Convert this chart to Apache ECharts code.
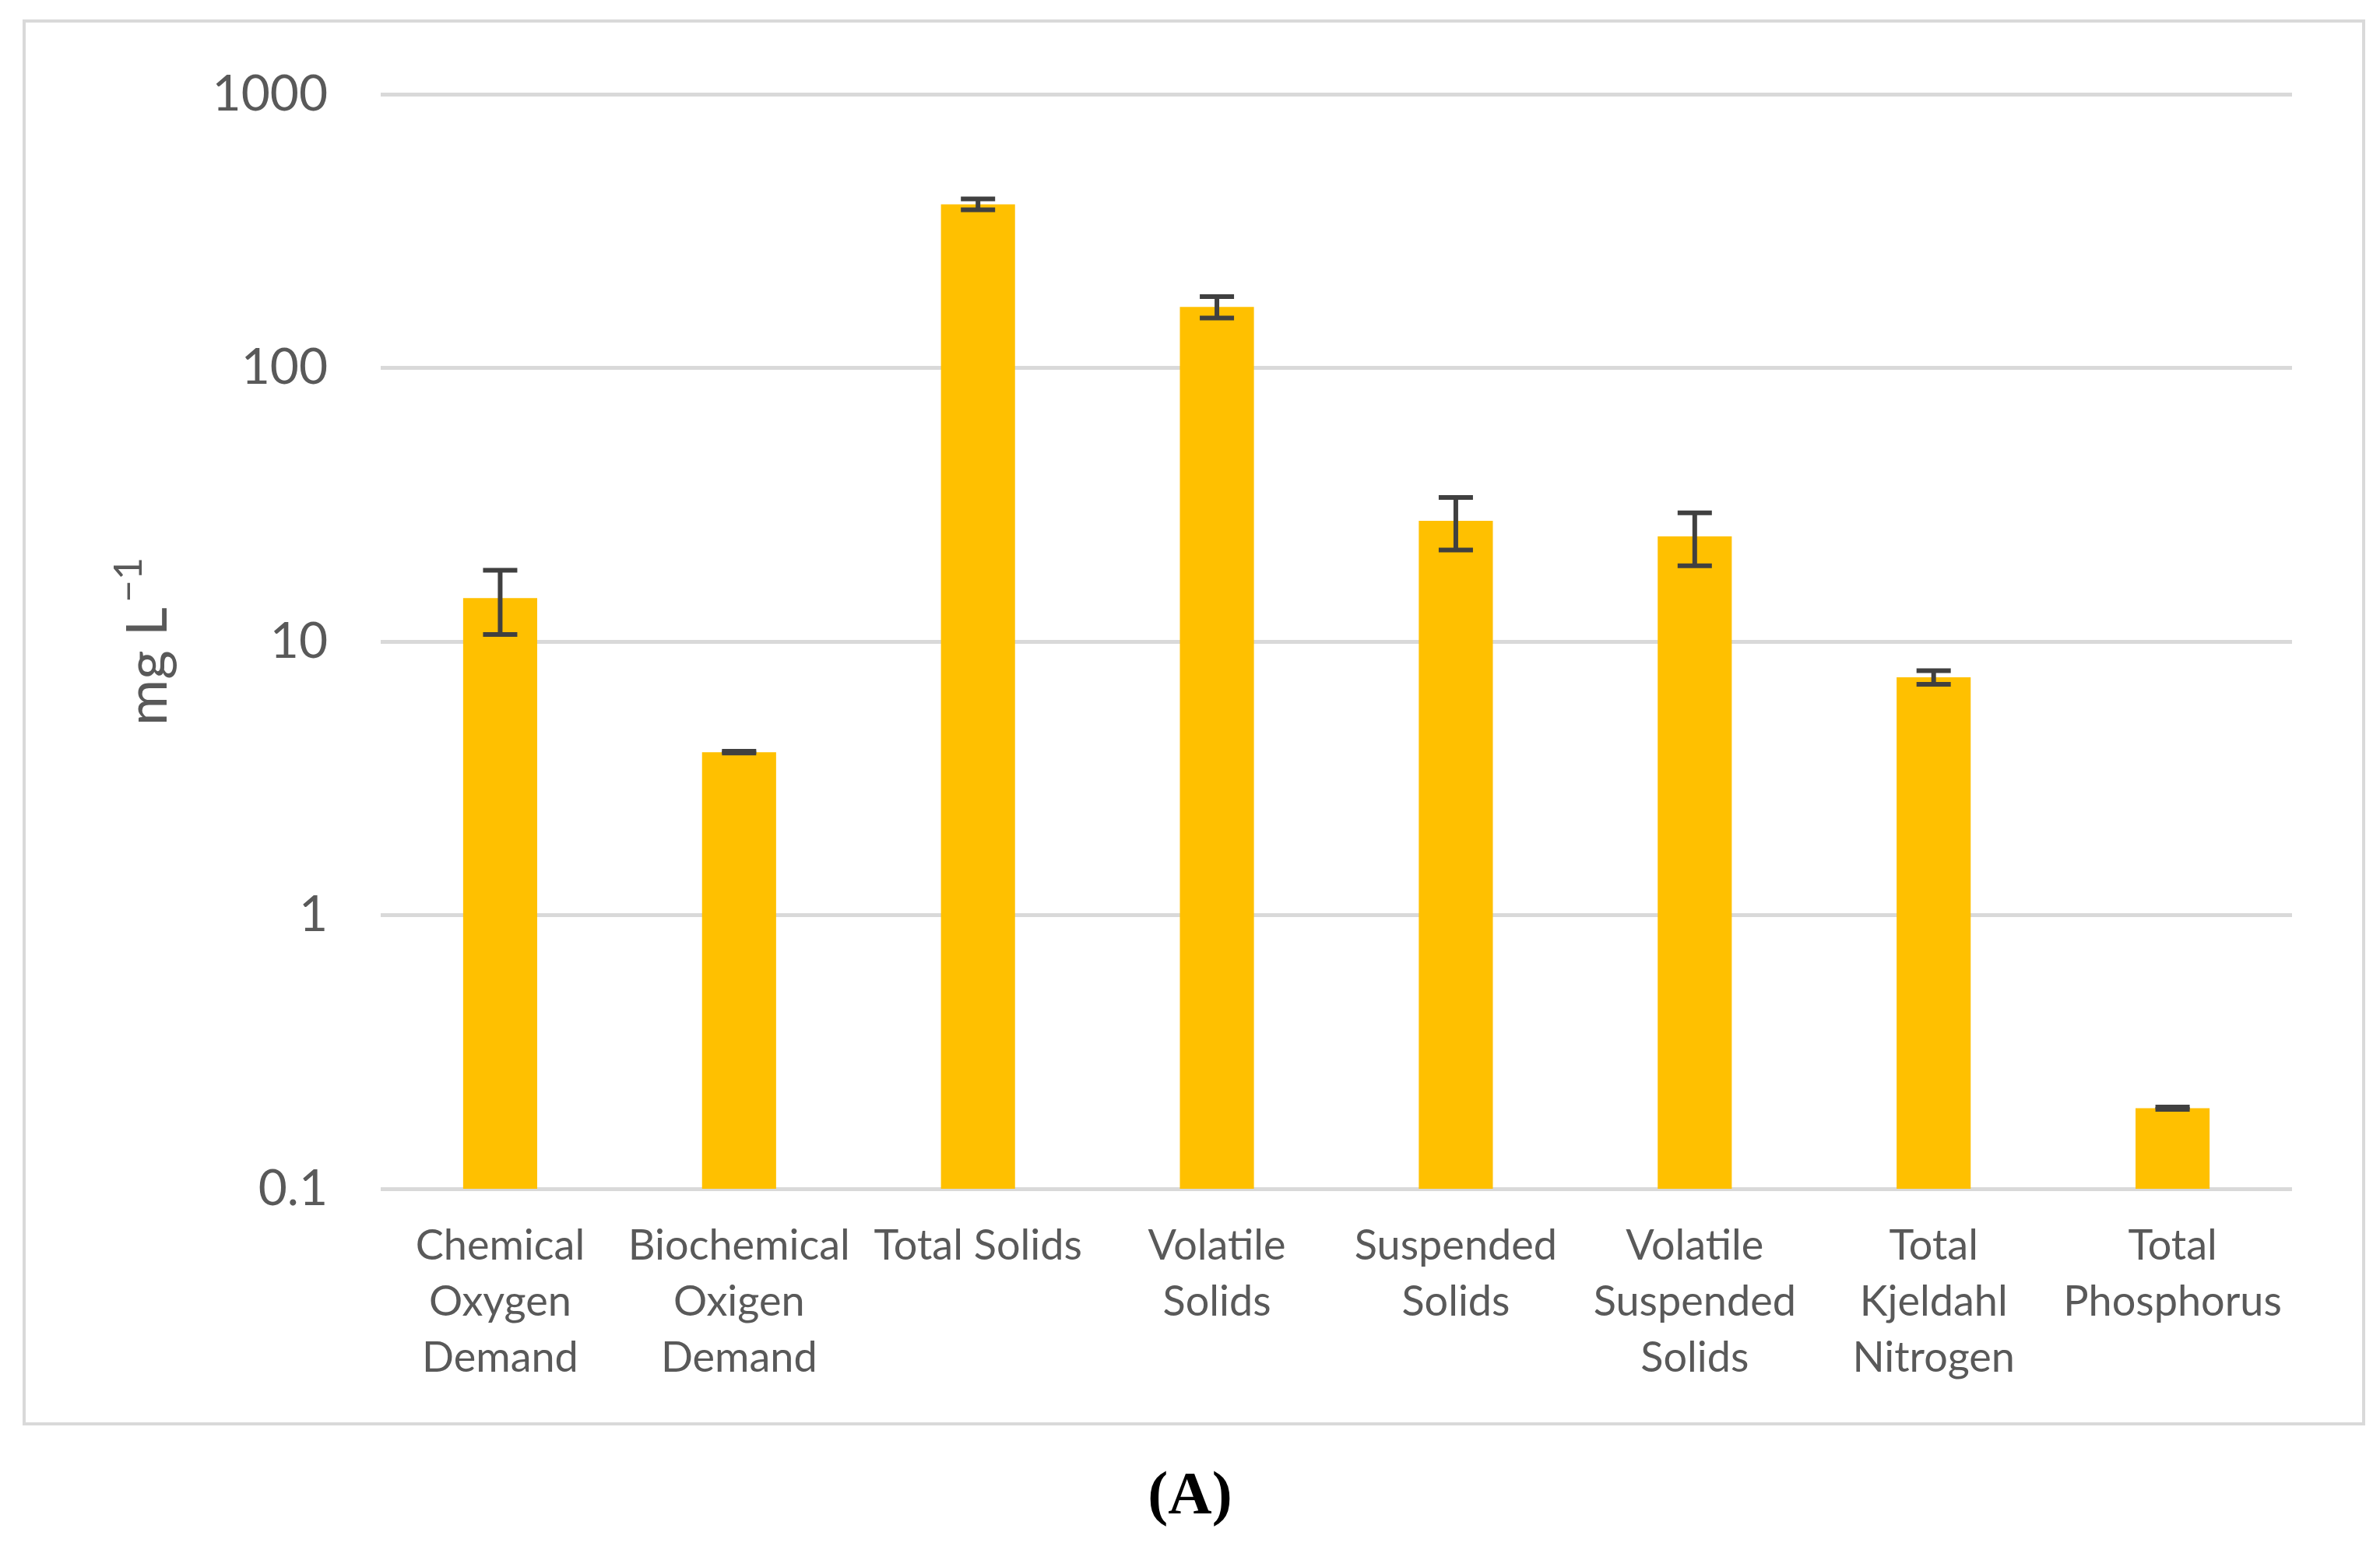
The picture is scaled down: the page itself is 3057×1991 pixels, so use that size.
<!DOCTYPE html>
<html>
<head>
<meta charset="utf-8">
<script src="https://cdn.jsdelivr.net/npm/echarts@6/dist/echarts.min.js"></script>
<style>
html, body { margin: 0; padding: 0; background: #ffffff; }
#chart { width: 3057px; height: 1991px; }
</style>
</head>
<body>
<div id="chart"></div>
<script>
// values (log scale)
var categories = ['Chemical\nOxygen\nDemand', 'Biochemical\nOxigen\nDemand', 'Total Solids', 'Volatile\nSolids',
    'Suspended\nSolids', 'Volatile\nSuspended\nSolids', 'Total\nKjeldahl\nNitrogen', 'Total\nPhosphorus'];
var means = [14.4, 3.94, 396, 167, 27.6, 24.2, 7.4, 0.197];
var errors = [3.8, 0.03, 18, 15, 6, 5.3, 0.42, 0.002];
var yTicks = [0.1, 1, 10, 100, 1000];

var textColor = '#595959';
var gridColor = '#d9d9d9';

var barData = means.map(function (v, i) { return [i, v]; });
var errData = means.map(function (v, i) { return [i, v - errors[i], v + errors[i]]; });

var chart = echarts.init(document.getElementById('chart'));
var option = {
    backgroundColor: '#ffffff',
    animation: false,
    title: {
        text: '{p|(}{b|A}{p|)}',
        left: 'center',
        top: 1880,
        textStyle: {
            rich: {
                p: { fontFamily: 'Liberation Serif', fontSize: 78, color: '#000000' },
                b: { fontFamily: 'Liberation Serif', fontSize: 78, fontWeight: 'bold', color: '#000000' }
            }
        }
    },
    graphic: [{
        type: 'rect',
        shape: { x: 31, y: 27, width: 3005, height: 1802 },
        style: { fill: null, stroke: gridColor, lineWidth: 4 },
        silent: true
    }],
    grid: { left: 489, right: 113, top: 121, bottom: 464 },
    xAxis: {
        type: 'category',
        data: categories,
        axisLine: { show: false },
        axisTick: { show: false },
        axisLabel: {
            interval: 0,
            margin: 38,
            fontFamily: 'Lato',
            fontSize: 54,
            lineHeight: 72,
            color: textColor
        }
    },
    yAxis: {
        type: 'log',
        logBase: 10,
        min: yTicks[0],
        max: yTicks[yTicks.length - 1],
        name: '{n|mg L}{s|\u22121}',
        nameLocation: 'middle',
        nameGap: 262,
        nameTextStyle: {
            fontFamily: 'Lato',
            fontSize: 72,
            color: textColor,
            rich: {
                n: { fontFamily: 'Lato', fontSize: 72, color: textColor, lineHeight: 86, verticalAlign: 'bottom' },
                s: { fontFamily: 'Lato', fontSize: 50, color: textColor, lineHeight: 86, verticalAlign: 'top', padding: [0, 0, 0, 6] }
            }
        },
        axisLine: { show: false },
        axisTick: { show: false },
        splitLine: { lineStyle: { color: gridColor, width: 5 } },
        axisLabel: {
            margin: 68,
            fontFamily: 'Lato',
            fontSize: 64,
            color: textColor,
            formatter: function (v) { return String(+v.toPrecision(6)); }
        }
    },
    series: [
        {
            type: 'custom',
            name: 'mean',
            data: barData,
            encode: { x: 0, y: 1 },
            renderItem: function (params, api) {
                var i = api.value(0);
                var top = api.coord([i, api.value(1)]);
                var base = api.coord([i, yTicks[0]]);
                var w = api.size([1, 1])[0] * 0.31;
                return {
                    type: 'rect',
                    shape: { x: top[0] - w / 2, y: top[1], width: w, height: base[1] - top[1] },
                    style: { fill: '#FFC000' }
                };
            }
        },
        {
            type: 'custom',
            name: 'error',
            data: errData,
            encode: { x: 0, y: [1, 2] },
            z: 3,
            renderItem: function (params, api) {
                var i = api.value(0);
                var lo = api.coord([i, api.value(1)]);
                var hi = api.coord([i, api.value(2)]);
                var cap = 22;
                var st = { stroke: '#404040', lineWidth: 6 };
                return {
                    type: 'group',
                    children: [
                        { type: 'line', shape: { x1: hi[0], y1: hi[1], x2: lo[0], y2: lo[1] }, style: st },
                        { type: 'line', shape: { x1: hi[0] - cap, y1: hi[1], x2: hi[0] + cap, y2: hi[1] }, style: st },
                        { type: 'line', shape: { x1: lo[0] - cap, y1: lo[1], x2: lo[0] + cap, y2: lo[1] }, style: st }
                    ]
                };
            }
        }
    ]
};
chart.setOption(option);
</script>
</body>
</html>
